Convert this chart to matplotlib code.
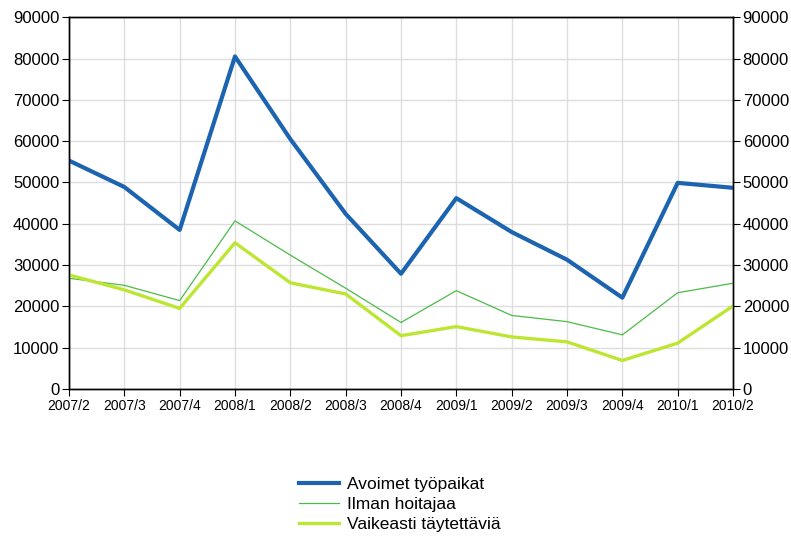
import matplotlib
matplotlib.use("Agg")
import matplotlib.pyplot as plt
import numpy as np

plt.rcParams["font.family"] = ["Liberation Sans", "DejaVu Sans"]

# --- Dados ---
periodos = ["2007/2", "2007/3", "2007/4", "2008/1", "2008/2", "2008/3", "2008/4",
            "2009/1", "2009/2", "2009/3", "2009/4", "2010/1", "2010/2"]
avoimet = [55300, 48900, 38500, 80500, 60500, 42400, 27900,
           46200, 38000, 31300, 22100, 49900, 48700]
ilman_hoitajaa = [26800, 25100, 21400, 40700, 32400, 24400, 16100,
                  23800, 17800, 16300, 13100, 23300, 25600]
vaikeasti = [27600, 24000, 19500, 35400, 25700, 23000, 12900,
             15100, 12600, 11400, 6900, 11100, 20100]

fig = plt.figure(figsize=(7.91, 5.38), dpi=100)
ax = fig.add_axes([0.0872, 0.277, 0.8395, 0.691])

x = np.arange(len(periodos))
ax.plot(x, avoimet, color="#1c64b0", lw=3.0, label="Avoimet työpaikat", zorder=3)
ax.plot(x, ilman_hoitajaa, color="#4cbb48", lw=0.9, label="Ilman hoitajaa", zorder=3)
ax.plot(x, vaikeasti, color="#bde632", lw=2.4, label="Vaikeasti täytettäviä", zorder=3)

ax.set_xlim(0, len(periodos) - 1)
ax.set_ylim(0, 90000)
ax.set_xticks(x)
ax.set_xticklabels(periodos, fontsize=10)
yt = np.arange(0, 90001, 10000)
ax.set_yticks(yt)
ax.set_yticklabels([str(v) for v in yt], fontsize=12)
ax.grid(True, color="#dddddd", lw=1.0, zorder=0)
ax.tick_params(direction="out", length=5, color="black", pad=2)

ax2 = ax.twinx()
ax2.set_ylim(0, 90000)
ax2.set_yticks(yt)
ax2.set_yticklabels([str(v) for v in yt], fontsize=12)
ax2.tick_params(direction="out", length=5, color="black", pad=2)

for a in (ax, ax2):
    for s in a.spines.values():
        s.set_color("black")
        s.set_linewidth(1.0)

fig.legend(loc="center", bbox_to_anchor=(0.505, 0.063), frameon=False,
           fontsize=12.5, handlelength=2.3, handletextpad=0.45, labelspacing=0.28)

fig.savefig("out.png", dpi=100)
